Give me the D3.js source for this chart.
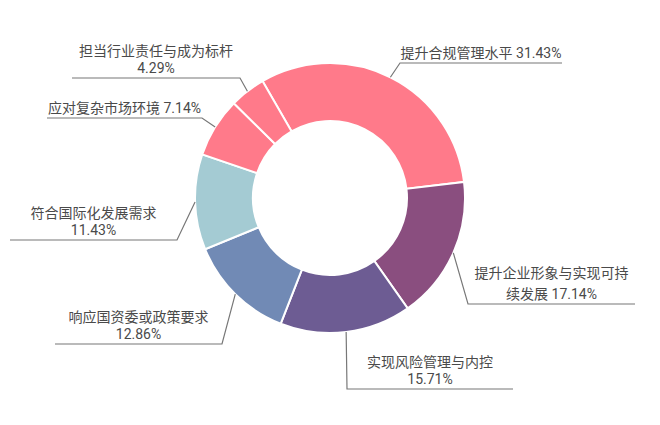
<!DOCTYPE html>
<html>
<head>
<meta charset="utf-8">
<script src="https://cdn.jsdelivr.net/npm/d3@7"></script>
<style>
  html, body { margin: 0; padding: 0; background: #fff; }
  svg { display: block; }
  text { font-family: Roboto, "Noto Sans CJK SC", sans-serif; font-size: 14px; fill: #4a4a4a; }
</style>
</head>
<body>
<svg id="donut"></svg>
<script>
// slices, clockwise from the first one
const categories = ['提升合规管理水平', '提升企业形象与实现可持续发展', '实现风险管理与内控',
	'响应国资委或政策要求', '符合国际化发展需求', '应对复杂市场环境', '担当行业责任与成为标杆'];
const shares = [31.43, 17.14, 15.71, 12.86, 11.43, 7.14, 4.29];
const colors = ['#ff7a8a', '#8a4e7f', '#6d5c93', '#718ab5', '#a4cbd3', '#ff7a8a', '#ff7a8a'];

// label placement: elbow point (relative to centre), end of the underline, how the text wraps
const labelLayout = [
	{ ex: 70, ey: -135, end: 232, wrap: 'one' },
	{ ex: 138, ey: 106, end: 305, wrap: 11, lh: 21 },
	{ ex: 17, ey: 191, end: 183, wrap: 'two' },
	{ ex: -108, ey: 146, end: -275, wrap: 'two' },
	{ ex: -153, ey: 42, end: -320, wrap: 'two' },
	{ ex: -128, ey: -80, end: -283, wrap: 'one' },
	{ ex: -90, ey: -120, end: -258, wrap: 'two' }
];

function makeChart() {
	let w = 660;
	let h = 425;
	let cx = 330;
	let cy = 198;
	let outer = 135;
	let inner = 77;

	let svg = d3.select('#donut')
		.attr('width', w)
		.attr('height', h);

	let g = svg.append('g')
		.attr('transform', `translate(${cx},${cy})`);

	let start = -Math.PI / 6;
	let pie = d3.pie()
		.sort(null)
		.startAngle(start)
		.endAngle(start + 2 * Math.PI)
		.value(d => d);

	let arcs = pie(shares);

	let arc = d3.arc()
		.innerRadius(inner)
		.outerRadius(outer);

	g.selectAll('path.slice')
		.data(arcs)
		.enter()
		.append('path')
		.attr('class', 'slice')
		.attr('d', arc)
		.style('fill', (d, i) => colors[i])
		.style('stroke', '#fff')
		.style('stroke-width', 2);

	// leader lines
	arcs.forEach((d, i) => {
		let lay = labelLayout[i];
		let mid = (d.startAngle + d.endAngle) / 2;
		let px = outer * Math.sin(mid);
		let py = -outer * Math.cos(mid);
		g.append('polyline')
			.attr('points', `${px},${py} ${lay.ex},${lay.ey} ${lay.end},${lay.ey}`)
			.style('fill', 'none')
			.style('stroke', '#777')
			.style('stroke-width', 1.2);

		let val = shares[i].toFixed(2) + '%';
		let name = categories[i];
		let lines;
		if (lay.wrap === 'one') lines = [name + ' ' + val];
		else if (lay.wrap === 'two') lines = [name, val];
		else lines = [name.slice(0, lay.wrap), name.slice(lay.wrap) + ' ' + val];

		let lh = lay.lh || 17;
		let tx = (lay.ex + lay.end) / 2;
		let t = g.append('text')
			.attr('text-anchor', 'middle');
		lines.forEach((ln, k) => {
			t.append('tspan')
				.attr('x', tx)
				.attr('y', lay.ey - 5 - (lines.length - 1 - k) * lh)
				.text(ln);
		});
	});
}

window.onload = function () {
	makeChart();
}
</script>
</body>
</html>
